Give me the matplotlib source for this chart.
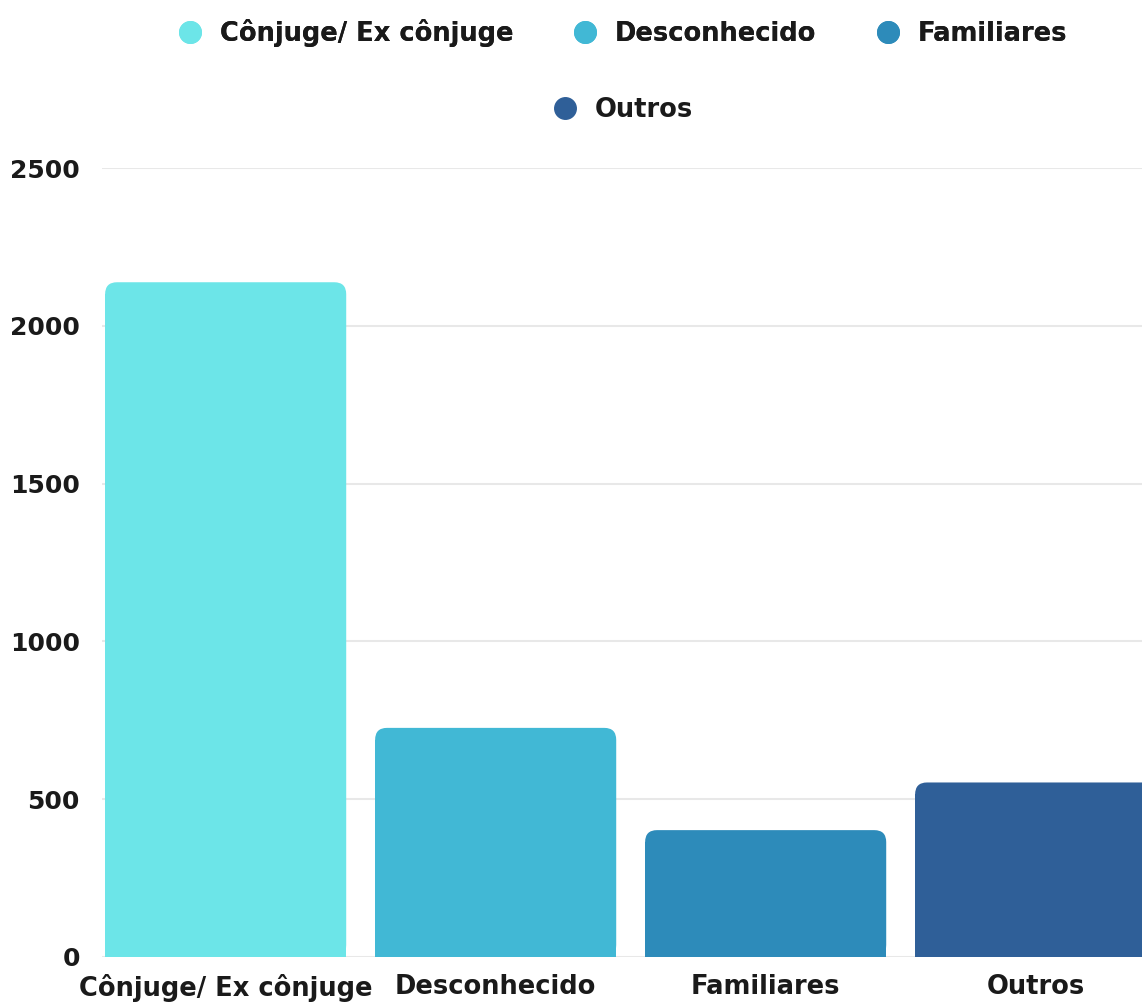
import matplotlib.pyplot as plt
from matplotlib.patches import FancyBboxPatch
from matplotlib.lines import Line2D

categories = ['Cônjuge/ Ex cônjuge', 'Desconhecido', 'Familiares', 'Outros']
values = [2138, 726, 402, 553]
colors = ['#6ce5e8', '#41b8d5', '#2d8bba', '#2f5f98']
yticks = [0, 500, 1000, 1500, 2000, 2500]

plt.rcParams['font.family'] = ['DejaVu Sans']

fig = plt.figure(figsize=(11.42, 10.02), dpi=100)
ax = fig.add_axes([102 / 1142, 45 / 1002, 1 - 102 / 1142, (957 - 168) / 1002])

bar_w = 0.893
rx = 0.044   # corner radius in x data units
ry = 38      # corner radius in y data units

x = list(range(len(categories)))
bars = ax.bar(x, [v - ry for v in values], width=bar_w, color=colors, zorder=3)
for rect, v, c in zip(bars, values, colors):
    box = FancyBboxPatch((rect.get_x(), 0), rect.get_width(), v,
                         boxstyle='round,pad=0,rounding_size=%f' % rx,
                         mutation_aspect=ry / rx, facecolor=c,
                         edgecolor='none', zorder=3)
    ax.add_patch(box)

ax.set_xlim(-0.458, -0.458 + 1040 / 270)
ax.set_ylim(0, 2500)
ax.set_yticks(yticks)
ax.set_yticklabels([str(t) for t in yticks], fontsize=18, fontweight='bold',
                   color='#1a1a1a')
ax.set_xticks(x)
ax.set_xticklabels(categories, fontsize=18.5, fontweight='bold', color='#1a1a1a')
ax.tick_params(axis='both', length=0)
ax.tick_params(axis='y', pad=16)
ax.tick_params(axis='x', pad=12)
ax.grid(axis='y', color='#e8e8e8', linewidth=1.5, zorder=0)
for s in ax.spines.values():
    s.set_visible(False)

handles = [Line2D([], [], marker='o', linestyle='none', markersize=15.5,
                  markerfacecolor=c, markeredgecolor=c) for c in colors]

leg1 = fig.legend(handles[:3], categories[:3], loc='center',
                  bbox_to_anchor=(0.545, 1 - 33 / 1002), ncol=3, frameon=False,
                  prop={'size': 18.5, 'weight': 'bold'}, handletextpad=0.65,
                  columnspacing=2.3, handlelength=1.0, labelcolor='#1a1a1a')
fig.add_artist(leg1)
fig.legend(handles[3:], categories[3:], loc='center',
           bbox_to_anchor=(0.545, 1 - 110 / 1002), frameon=False,
           prop={'size': 18.5, 'weight': 'bold'}, handletextpad=0.65,
           handlelength=1.0, labelcolor='#1a1a1a')

fig.savefig('out.png', dpi=100)
